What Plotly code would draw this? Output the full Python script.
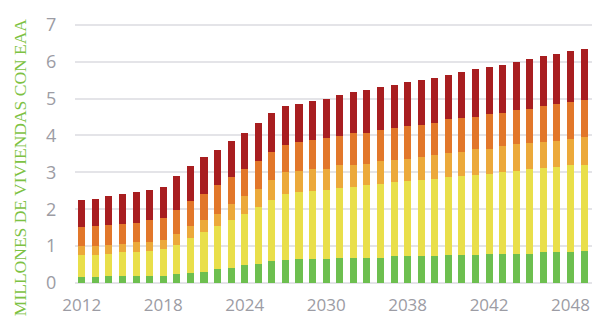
import plotly.graph_objects as go

years = list(range(2012, 2051))

# segment heights, millones de viviendas (bottom to top)
verde = [0.15, 0.15, 0.18, 0.18, 0.18, 0.18, 0.18, 0.24, 0.28, 0.31,
         0.39, 0.42, 0.49, 0.52, 0.60, 0.63, 0.65, 0.65, 0.65, 0.69,
         0.69, 0.69, 0.69, 0.73, 0.73, 0.73, 0.73, 0.76, 0.76, 0.76,
         0.79, 0.79, 0.79, 0.79, 0.83, 0.83, 0.83, 0.87, 0.87]
amarillo = [0.61, 0.61, 0.61, 0.65, 0.65, 0.69, 0.74, 0.79, 0.93, 1.06,
            1.16, 1.28, 1.38, 1.53, 1.64, 1.79, 1.82, 1.85, 1.87, 1.89,
            1.91, 1.98, 2.00, 2.01, 2.04, 2.07, 2.10, 2.11, 2.14, 2.18,
            2.17, 2.23, 2.26, 2.29, 2.29, 2.31, 2.36, 2.34, 2.39]
naranja_claro = [0.24, 0.24, 0.24, 0.23, 0.27, 0.25, 0.25, 0.31, 0.33, 0.33,
                 0.33, 0.45, 0.49, 0.51, 0.56, 0.58, 0.57, 0.58, 0.58, 0.62,
                 0.60, 0.56, 0.61, 0.60, 0.60, 0.61, 0.64, 0.66, 0.65, 0.69,
                 0.67, 0.70, 0.72, 0.72, 0.70, 0.70, 0.71, 0.76, 0.73]
naranja = [0.51, 0.54, 0.54, 0.54, 0.53, 0.58, 0.58, 0.63, 0.68, 0.72,
           0.77, 0.72, 0.74, 0.74, 0.75, 0.74, 0.77, 0.80, 0.82, 0.79,
           0.86, 0.85, 0.85, 0.85, 0.89, 0.88, 0.88, 0.91, 0.91, 0.88,
           0.95, 0.90, 0.92, 0.93, 0.99, 1.02, 1.01, 0.99, 1.04]
rojo = [0.75, 0.75, 0.78, 0.82, 0.83, 0.83, 0.84, 0.93, 0.95, 0.99,
        0.96, 0.98, 0.98, 1.03, 1.05, 1.05, 1.05, 1.06, 1.08, 1.11,
        1.12, 1.15, 1.16, 1.19, 1.20, 1.21, 1.22, 1.20, 1.27, 1.28,
        1.27, 1.30, 1.30, 1.35, 1.35, 1.36, 1.38, 1.39, 1.41]

tick_years = [2012, 2018, 2024, 2030, 2036, 2042, 2048]
tick_labels = ["2012", "2018", "2024", "2030", "2038", "2042", "2048"]

series = [
    (verde, "#6dbf4f"),
    (amarillo, "#e9df4a"),
    (naranja_claro, "#eca93a"),
    (naranja, "#e2772a"),
    (rojo, "#a81e20"),
]

fig = go.Figure()
for vals, color in series:
    fig.add_trace(go.Bar(
        x=years, y=vals, width=0.52,
        marker=dict(color=color, line=dict(width=0)),
        hoverinfo="skip"
    ))

grey = "#9c9ca4"
# page body adds an 8px margin; keep the page inside the window (no scrollbar)
fig.update_layout(
    barmode="stack",
    width=592, height=308,
    margin=dict(l=67, r=0, t=12, b=31),
    paper_bgcolor="white",
    plot_bgcolor="white",
    showlegend=False,
    font=dict(family="Open Sans", color=grey, size=17),
    annotations=[dict(
        text="MILLONES DE VIVIENDAS CON EAA",
        xref="paper", yref="paper", x=-0.105, y=0.44,
        xanchor="center", yanchor="middle",
        textangle=-90, showarrow=False,
        font=dict(family="Liberation Serif", size=17.5, color="#7dc243")
    )]
)
fig.update_xaxes(
    range=[2011.5, 2050.17],
    tickvals=tick_years, ticktext=tick_labels,
    showgrid=False, zeroline=False, showline=False,
    ticks="outside", ticklen=7, tickcolor="rgba(0,0,0,0)",
    tickfont=dict(size=17, color=grey)
)
fig.update_yaxes(
    range=[0, 7.13],
    tickvals=[0, 1, 2, 3, 4, 5, 6, 7],
    showgrid=True, gridcolor="#e4e4e8", gridwidth=1.5,
    zeroline=True, zerolinecolor="#e4e4e8", zerolinewidth=1.5,
    ticks="outside", ticklen=14, tickcolor="rgba(0,0,0,0)",
    tickfont=dict(size=18, color=grey)
)

fig.write_html("out.html")
